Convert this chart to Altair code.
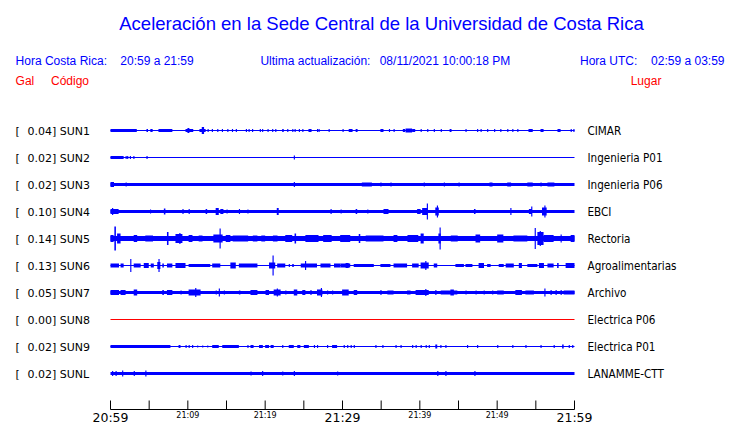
import altair as alt
import pandas as pd

# ---------------- data ----------------
codes = ["SUN1", "SUN2", "SUN3", "SUN4", "SUN5", "SUN6", "SUN7", "SUN8", "SUN9", "SUNL"]
gal = ["0.04", "0.02", "0.02", "0.10", "0.14", "0.13", "0.05", "0.00", "0.02", "0.02"]
places = ["CIMAR", "Ingenieria P01", "Ingenieria P06", "EBCI", "Rectoria",
          "Agroalimentarias", "Archivo", "Electrica P06", "Electrica P01", "LANAMME-CTT"]
# continuous background half-amplitude of each trace
base_amp = [0.5, 0.5, 1.5, 1.5, 2.5, 0.5, 1.5, 0.5, 0.5, 1.5]

# bursts: (start minute, end minute, half amplitude) -- minutes after 20:59
sun1 = [(0.0, 3.4, 1.5), (4.65, 4.85, 1.5), (5.15, 5.45, 1.5), (6.2, 8.0, 1.5), (9.7, 10.7, 1.5), (9.95, 10.2, 2.5),
        (11.5, 12.3, 1.5), (11.8, 12.1, 3.5), (12.55, 12.7, 1.5), (13.1, 13.25, 1.5), (13.8, 13.95, 1.5),
        (14.4, 14.55, 1.5), (15.1, 15.25, 1.5), (15.7, 15.85, 1.5), (16.2, 16.35, 1.5), (17.5, 17.65, 1.5),
        (17.85, 18.0, 1.5), (18.3, 18.45, 1.5), (19.3, 19.45, 1.5), (19.6, 19.75, 1.5), (20.3, 20.45, 1.5),
        (20.9, 21.05, 1.5), (21.3, 21.45, 1.5), (22.2, 22.4, 1.5), (22.85, 23.0, 1.5), (23.5, 23.65, 1.5),
        (23.8, 23.95, 1.5), (24.35, 24.5, 1.5), (24.8, 24.95, 1.5), (25.6, 26.0, 1.5), (26.7, 26.85, 1.5),
        (26.9, 27.05, 1.5), (28.2, 28.35, 1.5), (30.0, 30.15, 1.5), (30.8, 31.3, 1.5), (31.7, 31.95, 1.5),
        (34.9, 35.3, 1.5), (36.0, 36.15, 1.5), (36.6, 36.75, 1.5), (37.8, 38.1, 1.5), (38.15, 39.0, 2.0),
        (39.0, 39.4, 1.5), (40.1, 40.25, 1.5), (40.95, 41.1, 1.5), (41.8, 41.95, 1.5), (42.7, 42.85, 1.5),
        (43.85, 44.1, 1.5), (45.9, 46.05, 1.5), (47.4, 47.55, 1.5), (47.85, 48.0, 1.5), (48.7, 48.85, 1.5),
        (49.6, 49.75, 1.5), (50.4, 50.55, 1.5), (51.3, 51.45, 1.5), (51.95, 52.1, 1.5), (52.6, 52.75, 1.5),
        (54.05, 54.6, 1.5), (55.6, 56.0, 1.5), (57.8, 58.2, 1.5), (59.5, 59.65, 1.5), (59.85, 60.0, 1.5)]
sun2 = [(0.0, 1.7, 1.5), (1.95, 2.1, 1.5), (2.15, 2.3, 1.5), (2.5, 2.65, 1.5), (2.95, 3.1, 1.5),
        (4.65, 4.8, 1.5), (23.7, 23.85, 2.0)]
sun3 = [(0.0, 0.45, 2.5), (1.95, 2.1, 2.0), (23.7, 23.85, 2.5), (32.5, 33.8, 2.0), (34.9, 35.05, 2.0),
        (36.2, 36.35, 2.0), (40.5, 40.65, 2.0), (43.1, 43.25, 2.0), (45.0, 45.15, 2.0), (49.0, 49.4, 2.0),
        (51.3, 51.8, 2.0), (53.9, 54.6, 2.0), (55.6, 55.75, 2.0), (56.5, 57.4, 2.0)]
sun4 = [(0.0, 1.05, 2.5), (0.2, 0.35, 3.5), (5.1, 5.25, 2.0), (6.9, 7.1, 3.0), (9.3, 9.45, 2.5), (10.1, 10.25, 2.5),
        (12.3, 12.5, 2.5), (13.6, 14.0, 3.5), (14.2, 14.6, 2.5), (15.0, 15.15, 2.0), (16.6, 16.75, 2.5),
        (17.7, 17.85, 2.0), (21.5, 21.75, 3.5), (28.45, 28.6, 2.5), (29.75, 29.9, 2.0), (31.7, 31.9, 2.5),
        (33.2, 33.35, 2.0), (35.3, 35.95, 2.5), (39.65, 40.1, 2.5), (40.3, 41.0, 3.5), (40.9, 41.05, 8.0),
        (42.0, 42.45, 4.0), (42.2, 42.35, 6.0), (47.0, 47.2, 2.5), (51.7, 51.85, 3.5), (54.1, 54.5, 2.5),
        (54.4, 54.55, 5.0), (55.8, 56.4, 4.0), (56.1, 56.25, 6.0)]
sun5 = [(0.0, 0.4, 3.5), (0.5, 0.7, 12.0), (0.85, 1.3, 5.0), (3.0, 3.45, 3.5), (4.5, 5.5, 3.0), (7.3, 7.5, 6.5),
        (8.4, 9.3, 4.5), (8.9, 9.05, 5.5), (10.1, 10.6, 3.5), (11.4, 11.9, 3.0), (13.3, 14.5, 4.0),
        (14.1, 14.25, 10.0), (14.9, 15.5, 3.5), (15.8, 17.8, 3.0), (18.4, 19.0, 3.0), (19.5, 20.0, 3.0),
        (21.0, 21.6, 3.0), (22.6, 23.5, 3.5), (23.8, 24.0, 5.0), (25.2, 26.9, 3.5), (27.5, 28.6, 3.5),
        (29.7, 31.0, 3.5), (32.1, 32.3, 4.5), (33.0, 35.3, 3.0), (36.6, 37.1, 3.5), (38.4, 39.8, 3.5),
        (40.1, 40.5, 5.0), (42.4, 42.7, 5.0), (42.55, 42.7, 11.0), (44.0, 44.9, 3.0), (47.2, 47.8, 4.0),
        (50.0, 50.8, 4.0), (52.1, 53.9, 3.0), (54.85, 55.0, 10.5), (55.2, 56.0, 6.5), (55.5, 55.65, 7.5),
        (56.0, 57.3, 3.5), (58.2, 58.35, 4.0), (59.5, 60.0, 3.5)]
sun6 = [(0.0, 1.1, 2.0), (1.3, 1.7, 2.0), (2.55, 2.7, 6.5), (3.0, 3.9, 2.0), (4.3, 4.95, 2.5), (5.2, 5.6, 2.0),
        (6.05, 6.45, 3.5), (6.2, 6.35, 6.5), (6.7, 6.9, 2.0), (7.3, 8.0, 2.0), (8.4, 9.7, 2.5), (10.1, 12.9, 1.5),
        (13.15, 14.2, 2.0), (15.5, 16.2, 3.0), (16.6, 19.0, 2.0), (20.5, 21.3, 3.0), (20.95, 21.1, 10.0),
        (21.55, 22.6, 2.0), (23.05, 23.2, 1.5), (23.5, 23.7, 1.5), (24.6, 26.7, 2.0), (25.15, 25.3, 4.5),
        (27.15, 28.45, 2.0), (28.9, 29.75, 2.0), (29.75, 31.0, 2.0), (30.4, 30.8, 2.5), (31.45, 34.05, 1.5),
        (34.9, 36.2, 1.5), (36.6, 38.35, 2.0), (39.0, 39.85, 2.0), (40.1, 41.15, 3.0), (40.7, 40.85, 4.5),
        (41.8, 42.25, 2.0), (44.6, 45.7, 1.5), (45.9, 46.8, 1.5), (47.6, 48.3, 2.5), (48.7, 49.15, 1.5),
        (50.2, 50.85, 1.5), (51.1, 52.15, 2.0), (52.8, 53.2, 2.5), (53.9, 55.2, 1.5), (55.4, 56.05, 2.5),
        (56.5, 57.3, 2.0), (57.75, 57.95, 2.5), (58.85, 60.0, 2.5)]
sun7 = [(0.0, 1.1, 2.5), (1.3, 1.95, 2.5), (3.0, 3.45, 3.0), (6.7, 6.9, 2.5), (7.3, 8.0, 2.5), (9.05, 9.2, 2.0),
        (10.1, 11.65, 3.0), (10.95, 11.1, 4.5), (13.6, 13.75, 2.0), (14.0, 14.15, 4.0), (14.65, 14.8, 2.0),
        (16.6, 16.8, 2.0), (18.1, 19.0, 2.5), (20.05, 20.5, 2.5), (21.1, 22.0, 3.0), (21.5, 21.65, 4.0),
        (22.6, 22.75, 2.0), (23.7, 24.15, 3.0), (24.8, 25.2, 2.5), (25.85, 26.0, 2.5), (26.7, 27.4, 3.0),
        (27.2, 27.35, 4.5), (28.0, 28.15, 2.0), (28.65, 28.8, 2.0), (29.95, 30.8, 3.0), (31.45, 31.9, 2.5),
        (34.9, 35.05, 2.5), (35.8, 36.6, 2.0), (38.35, 38.8, 2.0), (39.45, 41.15, 2.5), (40.7, 40.85, 3.5),
        (42.0, 42.15, 2.5), (42.7, 44.85, 2.0), (43.95, 44.4, 3.0), (45.9, 46.05, 2.0), (47.2, 47.35, 2.0),
        (48.25, 48.4, 2.0), (49.35, 49.5, 2.0), (50.0, 50.85, 2.0), (52.35, 53.2, 2.5), (53.65, 54.75, 2.0),
        (56.1, 56.25, 4.0), (56.9, 57.05, 2.5), (57.55, 57.7, 2.5), (58.2, 58.35, 2.5), (58.6, 60.0, 2.0)]
sun8 = []
sun9 = [(0.0, 7.75, 1.5), (8.8, 9.05, 1.5), (9.7, 9.85, 1.5), (10.1, 10.25, 1.5), (10.55, 10.7, 1.5),
        (11.2, 11.35, 1.0), (11.85, 12.0, 1.0), (12.5, 12.65, 1.0), (13.15, 14.0, 1.5), (14.45, 16.6, 1.5),
        (17.7, 17.85, 1.5), (18.1, 18.5, 1.5), (19.2, 19.7, 1.5), (20.0, 20.5, 1.5), (20.7, 21.1, 1.5),
        (22.2, 22.35, 1.5), (23.05, 23.7, 1.5), (24.15, 24.55, 1.5), (25.0, 25.65, 1.5), (26.3, 26.45, 1.5),
        (26.7, 26.85, 1.5), (28.0, 28.15, 1.5), (28.65, 29.3, 1.5), (30.15, 30.3, 1.5), (30.6, 30.75, 1.5),
        (31.05, 31.2, 1.5), (31.45, 31.6, 1.5), (34.25, 34.4, 1.5), (35.15, 35.3, 1.5), (36.85, 37.0, 1.5),
        (37.5, 37.65, 1.5), (39.0, 39.15, 1.5), (39.45, 39.6, 1.5), (40.1, 40.25, 1.5), (40.75, 40.9, 1.5),
        (41.15, 41.3, 1.5), (42.0, 42.25, 2.0), (42.65, 42.8, 1.5), (43.3, 43.45, 1.5), (46.1, 46.25, 1.5),
        (47.4, 47.55, 1.5), (50.0, 50.15, 1.5), (51.95, 52.1, 1.5), (53.65, 53.8, 1.5), (55.6, 55.75, 1.5),
        (57.3, 57.45, 1.5), (58.4, 58.6, 2.0), (59.25, 59.4, 1.5), (59.7, 59.85, 1.5)]
sunl = [(0.2, 0.35, 2.5), (0.65, 0.8, 2.5), (1.5, 1.65, 3.0), (3.0, 3.15, 2.5), (4.5, 4.65, 3.0),
        (18.1, 18.25, 2.0), (19.6, 19.75, 2.5), (22.2, 22.35, 2.0), (23.7, 23.85, 2.5), (29.3, 29.45, 2.0),
        (42.25, 42.4, 2.5), (43.3, 43.45, 2.5), (47.05, 47.2, 2.5)]
bursts = [sun1, sun2, sun3, sun4, sun5, sun6, sun7, sun8, sun9, sunl]

tick_minutes = [0, 5, 10, 15, 20, 25, 30, 35, 40, 45, 50, 55, 60]
label_minutes = [0, 10, 20, 30, 40, 50, 60]
label_texts = ["20:59", "21:09", "21:19", "21:29", "21:39", "21:49", "21:59"]
label_big = [True, False, False, True, False, False, True]

title_text = "Aceleración en la Sede Central de la Universidad de Costa Rica"
header_texts = ["Hora Costa Rica:", "20:59 a 21:59", "Ultima actualización:", "08/11/2021 10:00:18 PM",
                "Hora UTC:", "02:59 a 03:59"]
red_texts = ["Gal", "Código", "Lugar"]

# ---------------- tables ----------------
ROW = 27
rows = []
for i, code in enumerate(codes):
    segs = [(0.0, 60.0, base_amp[i])] + bursts[i]
    for t0, t1, a in segs:
        rows.append({"code": code, "t0": t0, "t1": t1, "lo": ROW * i - a, "hi": ROW * i + a})
trace_df = pd.DataFrame(rows)

st_df = pd.DataFrame({
    "code": codes,
    "row": [ROW * i for i in range(len(codes))],
    "left": [g + "] " + c for g, c in zip(gal, codes)],
    "place": places,
})
tick_df = pd.DataFrame({"t": tick_minutes})
axis_df = pd.DataFrame({"t0": [tick_minutes[0]], "t1": [tick_minutes[-1]]})
lab_df = pd.DataFrame({"t": label_minutes, "txt": label_texts, "big": label_big})

BLUE = "#0000ff"
RED = "#ff0000"
xs = alt.Scale(domain=[0, 60], nice=False, zero=False)
ys = alt.Scale(domain=[-27, 279], reverse=True, nice=False, zero=False)

traces = alt.Chart(trace_df).mark_rect(strokeWidth=0).encode(
    x=alt.X("t0:Q", scale=xs, axis=None),
    x2="t1:Q",
    y=alt.Y("lo:Q", scale=ys, axis=None),
    y2="hi:Q",
    color=alt.condition("datum.code === 'SUN8'", alt.value(RED), alt.value(BLUE)),
)

lab_font = dict(font="DejaVu Sans", fontSize=11, color="black", baseline="alphabetic", align="left", dy=4)
bracket = alt.Chart(st_df).mark_text(**lab_font).encode(
    x=alt.value(-95), y=alt.Y("row:Q", scale=ys, axis=None), text=alt.value("["))
left_lab = alt.Chart(st_df).mark_text(**lab_font).encode(
    x=alt.value(-83), y=alt.Y("row:Q", scale=ys, axis=None), text="left:N")
right_lab = alt.Chart(st_df).mark_text(
    font="DejaVu Sans Condensed, DejaVu Sans", fontSize=11.6, color="black",
    baseline="alphabetic", align="left", dy=4).encode(
    x=alt.value(477), y=alt.Y("row:Q", scale=ys, axis=None), text="place:N")

axis_line = alt.Chart(axis_df).mark_rule(color="black", strokeWidth=1).encode(
    x=alt.X("t0:Q", scale=xs, axis=None), x2="t1:Q", y=alt.value(306))
ticks = alt.Chart(tick_df).mark_rule(color="black", strokeWidth=1).encode(
    x=alt.X("t:Q", scale=xs, axis=None), y=alt.value(297), y2=alt.value(306))
big_lab = alt.Chart(lab_df).transform_filter("datum.big").mark_text(
    font="DejaVu Sans", fontSize=12.5, color="black", baseline="alphabetic", align="center").encode(
    x=alt.X("t:Q", scale=xs, axis=None), y=alt.value(318), text="txt:N")
small_lab = alt.Chart(lab_df).transform_filter("!datum.big").mark_text(
    font="DejaVu Sans", fontSize=8, color="black", baseline="alphabetic", align="center").encode(
    x=alt.X("t:Q", scale=xs, axis=None), y=alt.value(314.8), text="txt:N")


def txt(s, x, y, size=12, color=BLUE, align="left"):
    return alt.Chart(pd.DataFrame({"s": [s]})).mark_text(
        font="Liberation Sans", fontSize=size, color=color, align=align, baseline="alphabetic").encode(
        x=alt.value(x), y=alt.value(y), text="s:N")


hdr_x = [-94.9, 9.8, 149.9, 269.2, 469.5, 614.0]
hdr_align = ["left", "left", "left", "left", "left", "right"]
headers = [txt(title_text, 271, -73.5, size=18.5, align="center")]
headers += [txt(s, x, -38.5, align=a) for s, x, a in zip(header_texts, hdr_x, hdr_align)]
red_x = [-94.9, -59.5, 520.2]
headers += [txt(s, x, -18.5, color=RED) for s, x in zip(red_texts, red_x)]

chart = alt.layer(
    traces, bracket, left_lab, right_lab, axis_line, ticks, big_lab, small_lab, *headers
).properties(
    width=464, height=306,
    padding={"left": 102.5, "top": 95.5, "right": 157.5, "bottom": 13.5},
    autosize=alt.AutoSizeParams(type="none"),
    background="white",
).configure_view(stroke=None)

chart.save("out.html", embed_options={"renderer": "svg", "actions": False})
